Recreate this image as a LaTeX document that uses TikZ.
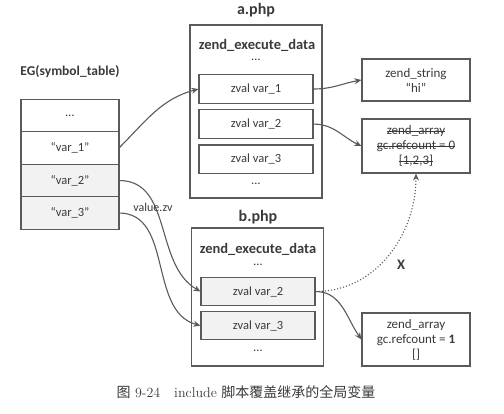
\documentclass[tikz,border=0pt]{standalone}
\usepackage{fontspec}
\usepackage{tikz}
\usetikzlibrary{arrows.meta,positioning}
\newfontfamily\cfont{Carlito}
\newfontfamily\cjk{Noto Sans CJK SC}
\definecolor{linegray}{HTML}{5A5A5A}
\definecolor{textgray}{HTML}{3A3A3A}
\definecolor{rowfill}{HTML}{F2F2F2}
\newcommand\struck[1]{{\setbox0\hbox{#1}\rlap{\raisebox{0.5ex}{\rule{\wd0}{0.8pt}}}\box0}}
\tikzset{
  cell/.style={rectangle, draw=linegray, line width=1.1pt, minimum width=98pt, minimum height=32.5pt, outer sep=0pt, text=textgray, font=\cfont\fontsize{12.5}{14}\selectfont},
  frame/.style={rectangle, draw=linegray, line width=1.1pt, minimum width=132pt},
  zvalbox/.style={rectangle, draw=linegray, line width=1.1pt, minimum width=114pt, minimum height=28.5pt, text=textgray, font=\cfont\fontsize{12.5}{14}\selectfont},
  heapbox/.style={rectangle, draw=linegray, line width=1.1pt, minimum width=108pt, align=center, text=textgray, font=\cfont\fontsize{13}{15}\selectfont},
  title/.style={text=textgray, font=\cfont\bfseries\fontsize{16}{18}\selectfont},
  subtitle/.style={text=textgray, font=\cfont\bfseries\fontsize{14.5}{16}\selectfont},
  plain/.style={text=textgray, font=\cfont\fontsize{12.5}{14}\selectfont},
  link/.style={draw=linegray, line width=1.1pt, -{Stealth[length=7pt,width=6pt]}},
}
\begin{document}
\begin{tikzpicture}[x=1pt,y=1pt]
  \useasboundingbox (0,0) rectangle (504,-413);
  % symbol table
  \node[subtitle,font=\cfont\bfseries\fontsize{13.5}{15}\selectfont] (egtitle) at (70,-72) {EG(symbol\_table)};
  \node[cell] (rowdots) at (70,-115.5) {\dots};
  \node[cell,below=0pt of rowdots] (rowvar1) {“var\_1”};
  \node[cell,fill=rowfill,below=0pt of rowvar1] (rowvar2) {“var\_2”};
  \node[cell,fill=rowfill,below=0pt of rowvar2] (rowvar3) {“var\_3”};
  % a.php
  \node[title] (atitle) at (256,-10) {a.php};
  \node[frame,minimum height=173pt] (aframe) at (256,-111.5) {};
  \node[subtitle] (aexec) at (257,-45) {zend\_execute\_data};
  \node[plain] (adots1) at (256,-60) {\dots};
  \node[zvalbox] (avar1) at (256,-89) {zval var\_1};
  \node[zvalbox,below=5.5pt of avar1] (avar2) {zval var\_2};
  \node[zvalbox,below=5.5pt of avar2] (avar3) {zval var\_3};
  \node[plain] (adots2) at (256,-184) {\dots};
  % b.php
  \node[title] (btitle) at (258,-217) {b.php};
  \node[frame,minimum height=138pt] (bframe) at (257.5,-297) {};
  \node[subtitle] (bexec) at (258,-249) {zend\_execute\_data};
  \node[plain] (bdots1) at (258,-265) {\dots};
  \node[zvalbox,fill=rowfill] (bvar2) at (258,-291.5) {zval var\_2};
  \node[zvalbox,fill=rowfill,below=4.5pt of bvar2] (bvar3) {zval var\_3};
  \node[plain] (bdots2) at (258,-351) {\dots};
  % heap values
  \node[heapbox,minimum height=42pt] (zstr) at (416,-80) {zend\_string\\“hi”};
  \node[heapbox,minimum height=54pt] (oldarr) at (416,-146) {\struck{zend\_array}\\\struck{gc.refcount = 0}\\\struck{[1,2,3]}};
  \node[heapbox,minimum height=53pt] (newarr) at (416,-339.5) {zend\_array\\gc.refcount = \textbf{1}\\{[]}};
  % links
  \draw[link] (rowvar1.east) to[out=45,in=195] (avar1.west);
  \draw[link] (rowvar2.east) to[out=0,in=150] (bvar2.west);
  \draw[link] (rowvar3.east) to[out=0,in=165] (bvar3.west);
  \node[plain,font=\cfont\fontsize{12}{14}\selectfont] (zvlabel) at (153,-207) {value.zv};
  \draw[link] (avar1.east) to[out=0,in=190] (zstr.west);
  \draw[link] (avar2.east) to[out=0,in=155] (oldarr.west);
  \draw[link] (bvar2.east) to[out=0,in=125] (newarr.west);
  \draw[link,dotted] (bvar2.east) to[out=0,in=-90] (oldarr.south);
  \node[subtitle] (xmark) at (401,-265) {X};
  % caption
  \node[text=textgray,font=\fontsize{14}{16}\selectfont] (caption) at (246,-392) {{\cjk 图} 9-24\quad include {\cjk 脚本覆盖继承的全局变量}};
\end{tikzpicture}
\end{document}
